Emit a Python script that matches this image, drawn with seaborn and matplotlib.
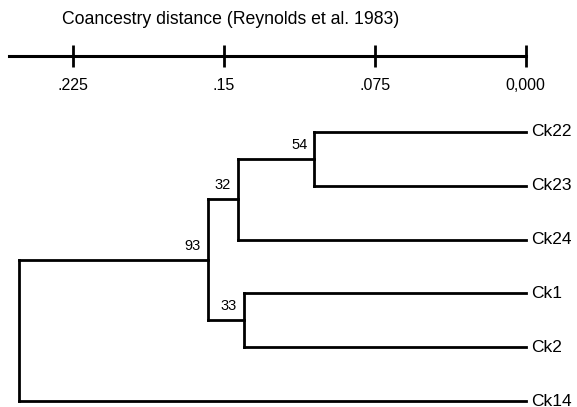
import matplotlib
matplotlib.use("Agg")
import matplotlib.pyplot as plt
import seaborn as sns
import pandas as pd

# leaves, top to bottom
leaves = ["Ck22", "Ck23", "Ck24", "Ck1", "Ck2", "Ck14"]

# internal nodes: children, joining distance and bootstrap support
node_ids = ["n54", "n32", "n33", "n93", "root"]
node_left = ["Ck22", "n54", "Ck1", "n32", "n93"]
node_right = ["Ck23", "Ck24", "Ck2", "n33", "Ck14"]
node_height = [0.105, 0.143, 0.140, 0.158, 0.252]
node_support = ["54", "32", "33", "93", ""]

# scale bar
scale_ticks = [0.225, 0.15, 0.075, 0.0]
scale_labels = [".225", ".15", ".075", "0,000"]
title = "Coancestry distance (Reynolds et al. 1983)"

sns.set_style("white")
plt.rcParams["font.family"] = ["Liberation Sans", "DejaVu Sans"]
plt.rcParams["text.color"] = "black"
plt.rcParams["xtick.color"] = "black"
plt.rcParams["xtick.labelcolor"] = "black"

W, H = 577, 407
fig = plt.figure(figsize=(W / 100, H / 100), dpi=100)

x_left, x_right = 9, 525.6
xmax = 0.2568

# node positions
pos_y = {name: i for i, name in enumerate(leaves)}
pos_x = {name: 0.0 for name in leaves}
for nid, l, r, h in zip(node_ids, node_left, node_right, node_height):
    pos_y[nid] = (pos_y[l] + pos_y[r]) / 2
    pos_x[nid] = h

# branch segments
rows = []
seg = 0
for nid, l, r, h in zip(node_ids, node_left, node_right, node_height):
    rows += [(seg, h, pos_y[l]), (seg, h, pos_y[r])]
    seg += 1
    for c in (l, r):
        rows += [(seg, pos_x[c], pos_y[c]), (seg, h, pos_y[c])]
        seg += 1
segs = pd.DataFrame(rows, columns=["seg", "dist", "y"])

# tree axes: leaf 0 at y=132 px, leaf 5 at y=401 px
top_px, bot_px = 132, 401
ax = fig.add_axes([x_left / W, 1 - bot_px / H, (x_right - x_left) / W, (bot_px - top_px) / H])
sns.lineplot(data=segs, x="dist", y="y", units="seg", estimator=None, sort=False,
             color="black", lw=2.0, ax=ax, legend=False)
for line in ax.lines:
    line.set_clip_on(False)
    line.set_solid_capstyle("projecting")
ax.set_xlim(xmax, 0)
ax.set_ylim(len(leaves) - 1, 0)
ax.axis("off")

for name in leaves:
    ax.annotate(name, (0, pos_y[name]), xytext=(4, 0), textcoords="offset points",
                ha="left", va="center", fontsize=12.5, annotation_clip=False)

for nid, s in zip(node_ids, node_support):
    if s:
        ax.annotate(s, (pos_x[nid], pos_y[nid]), xytext=(-5, 10), textcoords="offset points",
                    ha="right", va="center", fontsize=10.5, annotation_clip=False)

# scale bar axes
spine_px = 56
axs = fig.add_axes([x_left / W, 1 - spine_px / H, (x_right - x_left) / W, 0.05])
axs.set_xlim(xmax, 0)
axs.set_yticks([])
for side in ["top", "left", "right"]:
    axs.spines[side].set_visible(False)
axs.spines["bottom"].set_linewidth(2.2)
axs.spines["bottom"].set_color("black")
axs.set_xticks(scale_ticks)
axs.set_xticklabels(scale_labels, fontsize=11.5)
axs.tick_params(axis="x", bottom=True, direction="inout", length=16.5, width=2.0,
                pad=7.5, color="black")
axs.patch.set_visible(False)

fig.text(62 / W, 1 - 20 / H, title, ha="left", va="center", fontsize=12.7)

fig.savefig("out.png", dpi=100)
